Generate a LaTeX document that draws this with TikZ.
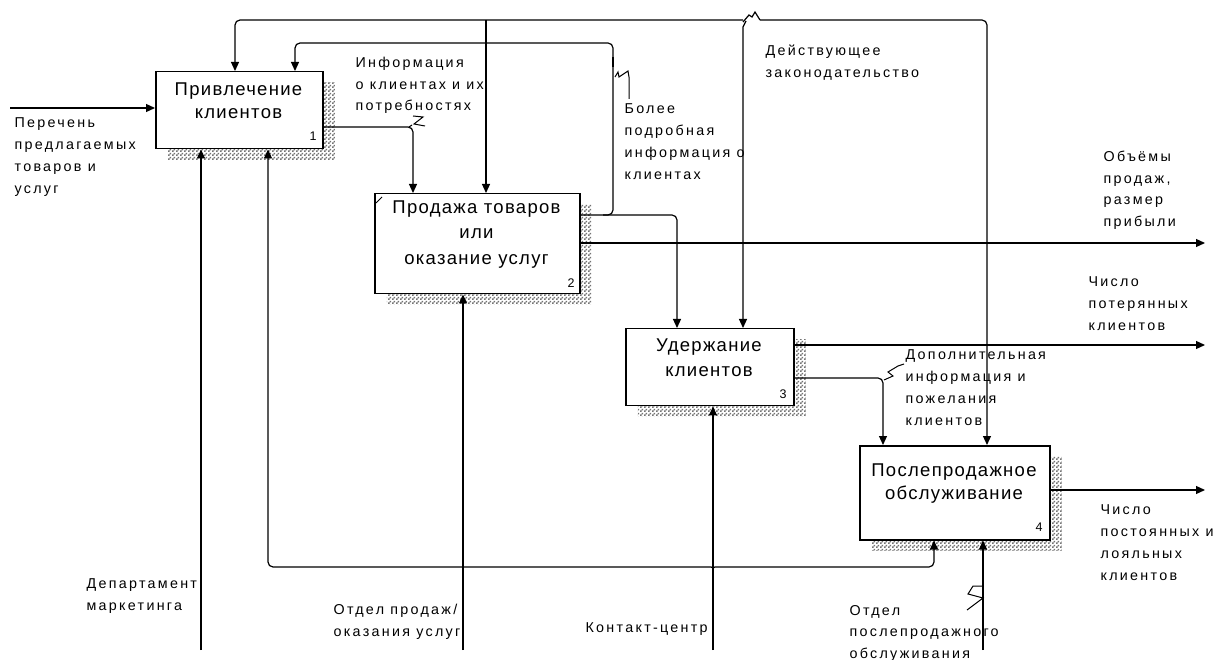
\documentclass[tikz,border=0pt]{standalone}
\usepackage{fontspec}
\setmainfont{Liberation Sans}
\newfontfamily\lblfont[LetterSpace=16]{Liberation Sans}
\newfontfamily\ttlfont[LetterSpace=7]{Liberation Sans}
\usetikzlibrary{arrows.meta,patterns,shadows}
\pgfdeclarepatternformonly{idefcheck}{\pgfpointorigin}{\pgfqpoint{4pt}{4pt}}{\pgfqpoint{4pt}{4pt}}{%
  \pgfpathrectangle{\pgfpointorigin}{\pgfqpoint{2pt}{2pt}}%
  \pgfpathrectangle{\pgfqpoint{2pt}{2pt}}{\pgfqpoint{2pt}{2pt}}%
  \pgfusepath{fill}}
\begin{document}
\begin{tikzpicture}[x=1pt,y=-1pt,
  line width=1.2pt,
  fbox/.style={draw, line width=1.5pt, fill=white, anchor=north west, inner sep=0pt,
    general shadow={shadow xshift=12pt, shadow yshift=-11pt, pattern=idefcheck, pattern color=black!55}},
  ttl/.style={align=center, inner sep=0pt, font=\ttlfont\fontsize{18.5}{23}\selectfont},
  ttlw/.style={align=center, inner sep=0pt, font=\ttlfont\fontsize{18.5}{25.5}\selectfont},
  num/.style={inner sep=0pt, font=\fontsize{12.5}{12.5}\selectfont},
  lbl/.style={align=left, anchor=north west, inner sep=0pt, font=\lblfont\fontsize{14.3}{21.7}\selectfont,
    execute at begin node={\rule{0pt}{11.5pt}}},
  arr/.style={-{Triangle[length=9pt,width=8pt]}},
  sq/.style={line width=1pt}
]
\useasboundingbox (0,0) rectangle (1219,660);

% boxes
\node[fbox, minimum width=167pt, minimum height=77pt] (b1) at (155,71) {};
\node[fbox, minimum width=205pt, minimum height=100pt] (b2) at (374,193) {};
\node[fbox, minimum width=168pt, minimum height=77pt] (b3) at (625,328) {};
\node[fbox, minimum width=190pt, minimum height=94pt] (b4) at (859,445) {};

\node[ttl] (t1) at (238.5,100.5) {Привлечение\\клиентов};
\node[ttlw] (t2) at (476.5,234.5) {Продажа товаров\\или\\оказание услуг};
\node[ttlw] (t3) at (709,357.5) {Удержание\\клиентов};
\node[ttl] (t4) at (954,483.5) {Послепродажное\\обслуживание};

\node[num] (n1) at (313,136) {1};
\node[num] (n2) at (571,283) {2};
\node[num] (n3) at (783,394) {3};
\node[num] (n4) at (1039,527) {4};

\draw[line width=0.8pt] (376,203) -- (382,197);

% free ends
\coordinate (in1) at (10,108);
\coordinate (out1) at (1205,243);
\coordinate (out2) at (1205,345);
\coordinate (out3) at (1205,490);
\coordinate (m1) at (201,650);
\coordinate (m2) at (463,650);
\coordinate (m3) at (713,650);
\coordinate (m4) at (983,650);

% input
\draw[arr] (in1) -- (in1 -| b1.west);

% box1 -> box2
\draw[arr, rounded corners=5pt] (b1.east |- 0,127) -- (413,127) -- (b2.north -| 413,0);

% controls from top line
\draw[arr, rounded corners=5pt] (743,20) -- (235,20) -- (b1.north -| 235,0);
\draw[arr] (486,20) -- (b2.north -| 486,0);
\draw[arr] (746,21) -- (743,27) -- (b3.north -| 743,0);
\draw (743,22) -- (749,15) -- (752,17) -- (755,12) -- (760,20);
\draw[arr, rounded corners=5pt] (760,20) -- (987,20) -- (b4.north -| 987,0);

% box2 detailed info
\draw[arr, rounded corners=5pt] (b2.east |- 0,215) -- (677,215) -- (b3.north -| 677,0);
\draw[arr, rounded corners=5pt] (603,215) -- (613,215) -- (613,43) -- (295,43) -- (b1.north -| 295,0);
\draw[line width=2.2pt] (613,57) -- (613,67);

% outputs
\draw[arr] (b2.east |- 0,243) -- (out1);
\draw[arr] (b3.east |- 0,345) -- (out2);
\draw[arr, rounded corners=5pt] (b3.east |- 0,378) -- (883,378) -- (b4.north -| 883,0);
\draw[arr] (b4.east |- 0,490) -- (out3);

% mechanisms
\draw[arr] (m1) -- (b1.south -| m1);
\draw[arr] (m2) -- (b2.south -| m2);
\draw[arr] (m3) -- (b3.south -| m3);
\draw[arr] (m4) -- (b4.south -| m4);
\draw[arr, rounded corners=5pt] (713,574) .. controls (713,567) .. (706,567) -- (268,567) -- (b1.south -| 268,0);
\draw[arr, rounded corners=5pt] (713,574) .. controls (713,567) .. (720,567) -- (934,567) -- (b4.south -| 934,0);

% squiggles
\draw[sq] (409,127) -- (412,125);
\draw[sq] (413,116) -- (423,117) -- (414,124) -- (425,126);
\draw[sq] (615,77) -- (618,72) -- (619,77) -- (628,71) -- (629,77) -- (629,99);
\draw[sq] (884,380) -- (893,376) -- (888,372) -- (898,366) -- (904,364);
\draw[sq] (983,586) -- (973,586) -- (968,594) -- (983,598) -- (967,610);

% labels
\node[lbl] (l1) at (14,117.5) {Перечень\\предлагаемых\\товаров и\\услуг};
\node[lbl] (l2) at (355,56.5) {Информация\\о клиентах и их\\потребностях};
\node[lbl] (l3) at (624,103.5) {Более\\подробная\\информация о\\клиентах};
\node[lbl] (l4) at (765,44.5) {Действующее\\законодательство};
\node[lbl] (l5) at (1103,150.5) {Объёмы\\продаж,\\размер\\прибыли};
\node[lbl] (l6) at (1088,276.5) {Число\\потерянных\\клиентов};
\node[lbl] (l7) at (905,349.5) {Дополнительная\\информация и\\пожелания\\клиентов};
\node[lbl] (l8) at (1100,504.5) {Число\\постоянных и\\лояльных\\клиентов};
\node[lbl] (l9) at (86,578.5) {Департамент\\маркетинга};
\node[lbl] (l10) at (333,603.5) {Отдел продаж/\\оказания услуг};
\node[lbl] (l11) at (585,620.5) {Контакт-центр};
\node[lbl] (l12) at (849,604.5) {Отдел\\послепродажного\\обслуживания};
\end{tikzpicture}
\end{document}
